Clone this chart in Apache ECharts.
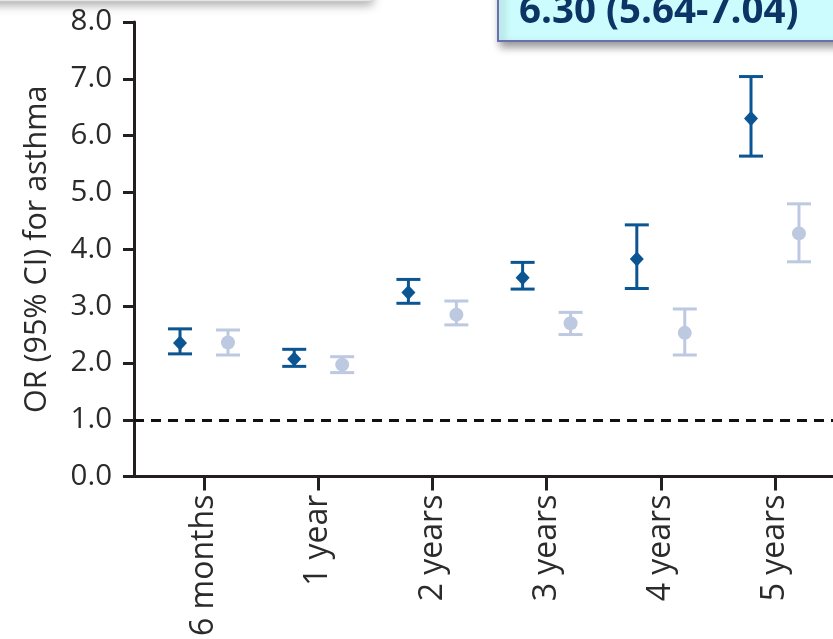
<!DOCTYPE html>
<html>
<head>
<meta charset="utf-8">
<script src="https://cdn.jsdelivr.net/npm/echarts@6/dist/echarts.min.js"></script>
<style>
html,body{margin:0;padding:0;background:#fff;}
#chart{width:833px;height:639px;}
</style>
</head>
<body>
<div id="chart"></div>
<script>
// ---- data ----
const categories = ['6 months', '1 year', '2 years', '3 years', '4 years', '5 years'];
const darkOR   = [2.35, 2.07, 3.24, 3.50, 3.83, 6.30];
const darkLow  = [2.16, 1.94, 3.05, 3.30, 3.31, 5.64];
const darkHigh = [2.60, 2.24, 3.47, 3.77, 4.43, 7.04];
const lightOR   = [2.36, 1.97, 2.85, 2.70, 2.53, 4.28];
const lightLow  = [2.14, 1.83, 2.67, 2.50, 2.14, 3.78];
const lightHigh = [2.58, 2.11, 3.09, 2.89, 2.95, 4.80];
const yTicks = [0, 1, 2, 3, 4, 5, 6, 7, 8];
const refValue = 1.0;
const calloutText = '6.30 (5.64-7.04)';

const DARK = '#0b5592';
const LIGHT = '#bdc9e1';
const FONT = '"Open Sans", "Noto Sans", sans-serif';
const OFFSET = 0.21;

const catPos = categories.map((c, i) => i + 1);

function errData(pos, low, high, off) {
  return pos.map((p, i) => [p + off, low[i], high[i]]);
}
function ptData(pos, val, off) {
  return pos.map((p, i) => [p + off, val[i]]);
}

function errRender(color) {
  return function (params, api) {
    const x = api.value(0);
    const lo = api.coord([x, api.value(1)]);
    const hi = api.coord([x, api.value(2)]);
    const hw = 12;
    const style = { stroke: color, lineWidth: 3, fill: null };
    return {
      type: 'group',
      children: [
        { type: 'line', shape: { x1: lo[0], y1: lo[1], x2: hi[0], y2: hi[1] }, style: style },
        { type: 'line', shape: { x1: lo[0] - hw, y1: lo[1], x2: lo[0] + hw, y2: lo[1] }, style: style },
        { type: 'line', shape: { x1: hi[0] - hw, y1: hi[1], x2: hi[0] + hw, y2: hi[1] }, style: style }
      ]
    };
  };
}

const chart = echarts.init(document.getElementById('chart'), null, { renderer: 'canvas' });

const option = {
  animation: false,
  backgroundColor: '#ffffff',
  grid: { left: 134, right: 0, top: 22, bottom: 161, containLabel: false },
  xAxis: {
    type: 'value',
    min: 0.387,
    max: 6.508,
    splitLine: { show: false },
    axisLine: { show: true, onZero: false, lineStyle: { color: '#231f20', width: 3 } },
    axisTick: { show: true, customValues: catPos, length: 14, lineStyle: { color: '#231f20', width: 3 } },
    axisLabel: {
      customValues: catPos,
      rotate: 90,
      margin: 18,
      fontSize: 32,
      fontFamily: FONT,
      color: '#2b2b2b',
      formatter: function (v) { return categories[Math.round(v) - 1] || ''; }
    }
  },
  yAxis: {
    type: 'value',
    min: 0,
    max: 8,
    interval: 1,
    name: 'OR (95% CI) for asthma',
    nameLocation: 'middle',
    nameGap: 81,
    nameTextStyle: { fontSize: 30.5, fontFamily: FONT, color: '#2b2b2b' },
    splitLine: { show: false },
    axisLine: { show: true, lineStyle: { color: '#231f20', width: 3 } },
    axisTick: { show: true, length: 11, lineStyle: { color: '#231f20', width: 3 } },
    axisLabel: {
      margin: 22,
      fontSize: 29.5,
      fontFamily: FONT,
      color: '#2b2b2b',
      formatter: function (v) { return v.toFixed(1); }
    }
  },
  series: [
    {
      type: 'custom',
      name: 'dark CI',
      renderItem: errRender(DARK),
      data: errData(catPos, darkLow, darkHigh, -OFFSET),
      encode: { x: 0, y: [1, 2] },
      z: 3,
      markLine: {
        silent: true,
        symbol: 'none',
        label: { show: false },
        lineStyle: { color: '#111', type: [10, 7], width: 3 },
        data: [{ yAxis: refValue }]
      }
    },
    {
      type: 'custom',
      name: 'light CI',
      renderItem: errRender(LIGHT),
      data: errData(catPos, lightLow, lightHigh, OFFSET),
      encode: { x: 0, y: [1, 2] },
      z: 3
    },
    {
      type: 'scatter',
      name: 'dark OR',
      symbol: 'diamond',
      symbolSize: [14, 15],
      itemStyle: { color: DARK, opacity: 1 },
      data: ptData(catPos, darkOR, -OFFSET),
      z: 4
    },
    {
      type: 'scatter',
      name: 'light OR',
      symbol: 'circle',
      symbolSize: 14,
      itemStyle: { color: LIGHT, opacity: 1 },
      data: ptData(catPos, lightOR, OFFSET),
      z: 4
    }
  ],
  graphic: [
    {
      type: 'rect',
      z: 10,
      shape: { x: -10, y: -60, width: 382, height: 61 },
      style: {
        fill: '#ffffff',
        stroke: '#d0d0d0',
        lineWidth: 1,
        shadowBlur: 10,
        shadowOffsetY: 3,
        shadowColor: 'rgba(0,0,0,0.35)'
      }
    },
    {
      type: 'rect',
      z: 10,
      shape: { x: 498, y: -30, width: 400, height: 71 },
      style: {
        fill: '#ccfcfd',
        stroke: '#6a6fae',
        lineWidth: 2,
        shadowBlur: 8,
        shadowOffsetX: 3,
        shadowOffsetY: 5,
        shadowColor: 'rgba(0,0,0,0.4)'
      }
    },
    {
      type: 'text',
      z: 11,
      style: {
        x: 519,
        y: 12,
        text: calloutText,
        font: 'bold 38.5px "Open Sans", "Noto Sans", sans-serif',
        fill: '#0e3466',
        align: 'left',
        verticalAlign: 'middle'
      }
    }
  ]
};

chart.setOption(option);
</script>
</body>
</html>
